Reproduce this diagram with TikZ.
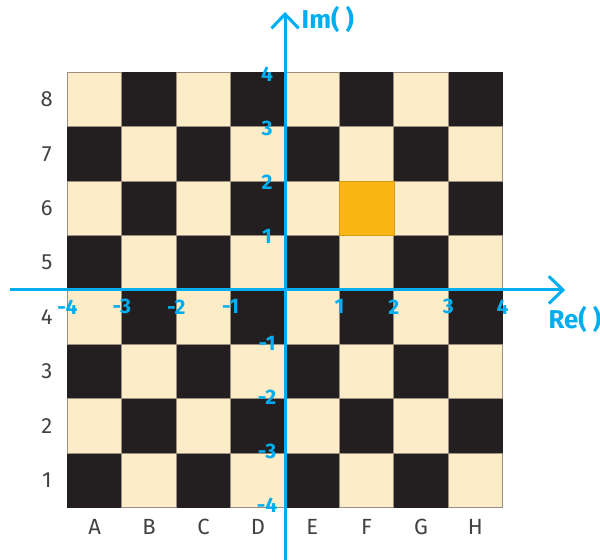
\documentclass[tikz,border=0pt]{standalone}
\usepackage{fontspec}
\setmainfont{Fira Sans}
\usetikzlibrary{arrows.meta, positioning}
\usepackage{xcolor}
\definecolor{boardblack}{HTML}{231F20}
\definecolor{boardcream}{HTML}{FDECC8}
\definecolor{boardgold}{HTML}{FBB615}
\definecolor{seamgray}{HTML}{9C8F80}
\definecolor{axisblue}{HTML}{00AEEF}
\tikzset{
  board/.style={
    rectangle, draw=boardblack, fill=boardblack,
    line width=0.8pt, minimum size=8cm, inner sep=0pt
  },
  lightsq/.style={fill=boardcream, draw=seamgray, line width=0.4pt},
  goldsq/.style={fill=boardgold, draw=boardgold!85!black, line width=0.3pt},
  axis/.style={-{Straight Barb[length=2.6mm, width=5mm]}, line width=1.6pt, color=axisblue},
  tick/.style={font=\fontsize{11}{13}\selectfont\bfseries, text=axisblue, inner sep=0pt},
  axlabel/.style={font=\fontsize{13.5}{16}\selectfont\bfseries, text=axisblue, inner sep=0pt},
  coord/.style={font=\fontsize{11.5}{14}\selectfont, text=boardblack!85, inner sep=0pt},
}

\begin{document}
\begin{tikzpicture}
        \useasboundingbox (-5.24,-4.96) rectangle (5.79,5.33);
        % board and squares
        \node[board] (board) at (0,0) {};
        \foreach \c in {1,...,8}
          \foreach \r in {1,...,8}{
            \pgfmathtruncatemacro\sqodd{mod(\c+\r,2)}
            \ifnum\sqodd=1 \draw[lightsq] (\c-5,\r-5) rectangle ++(1,1); \fi
          }
        \draw[goldsq] (1,1) rectangle (2,2);
        % axes
        \coordinate (xmin) at (-5.05,0);
        \coordinate (xmax) at (5.15,0);
        \coordinate (ymin) at (0,-4.96);
        \coordinate (ymax) at (0,5.11);
        \draw[axis] (xmin) -- (xmax);
        \draw[axis] (ymin) -- (ymax);
        \node[axlabel, anchor=west] (im) at (0.3,4.97) {Im( )};
        \node[axlabel] (re) at (5.33,-0.55) {Re( )};
        % tick labels
        \foreach \k [count=\i] in {-4,-3,-2,-1,1,2,3,4}{
          \node[tick] (tx\i) at (\k,-0.31) {\k};
          \node[tick] (ty\i) at (-0.33,\k*0.99) {\k};
        }
        % board coordinates
        \foreach \r in {1,...,8}
          \node[coord] (row\r) at (-4.38,\r-4.5) {\r};
        \foreach \l [count=\c] in {A,B,C,D,E,F,G,H}
          \node[coord] (col\l) at (\c-4.5,-4.35) {\l};
      \end{tikzpicture}
\end{document}
